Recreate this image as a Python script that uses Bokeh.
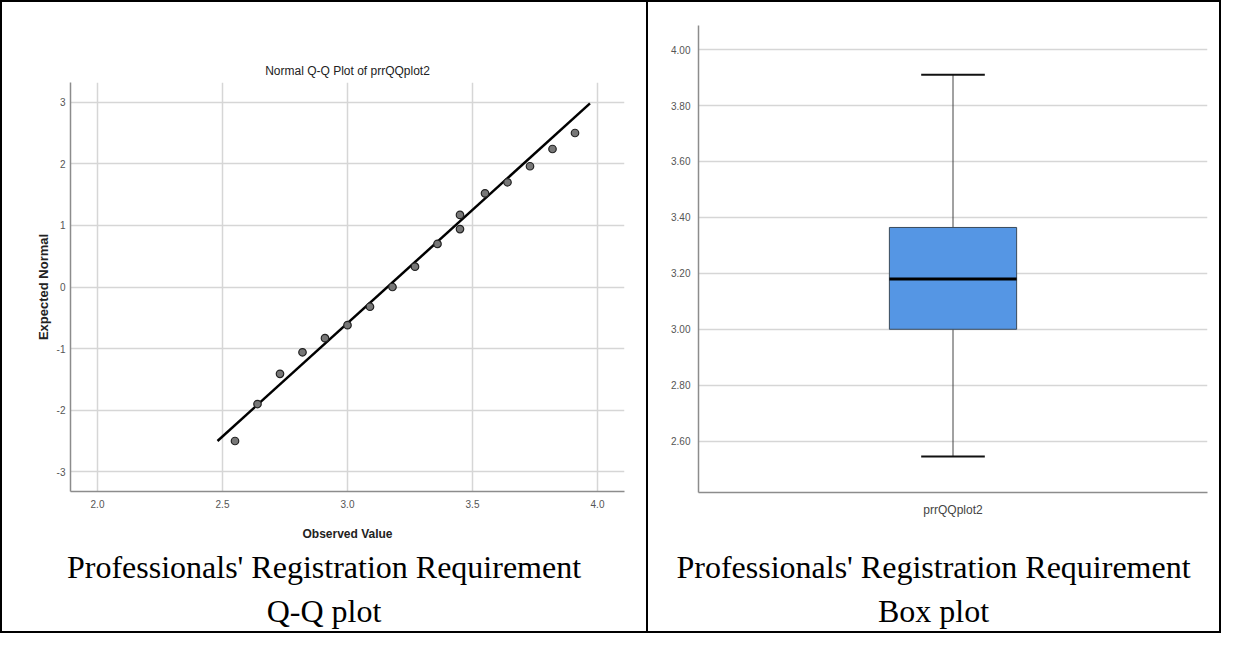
from bokeh.plotting import figure
from bokeh.layouts import row, column
from bokeh.models import Range1d, FactorRange, FixedTicker, Div
from bokeh.embed import file_html
from bokeh.resources import INLINE

# ---------------- data ----------------
observed = [2.55, 2.64, 2.73, 2.82, 2.91, 3.00, 3.09, 3.18, 3.27, 3.36,
            3.45, 3.45, 3.55, 3.64, 3.73, 3.82, 3.91]
expected = [-2.50, -1.90, -1.41, -1.06, -0.83, -0.62, -0.32, 0.00, 0.33, 0.70,
            0.94, 1.17, 1.52, 1.70, 1.96, 2.24, 2.50]
ref_line_x = [2.48, 3.97]
ref_line_y = [-2.50, 2.98]
qq_x_ticks = [2.0, 2.5, 3.0, 3.5, 4.0]
qq_x_labels = ["2.0", "2.5", "3.0", "3.5", "4.0"]
qq_y_ticks = [-3, -2, -1, 0, 1, 2, 3]
qq_y_labels = ["-3", "-2", "-1", "0", "1", "2", "3"]

box_category = ["prrQQplot2"]
box_min = [2.545]
box_q1 = [3.00]
box_median = [3.18]
box_q3 = [3.364]
box_max = [3.91]
box_y_ticks = [2.6, 2.8, 3.0, 3.2, 3.4, 3.6, 3.8, 4.0]
box_y_labels = ["2.60", "2.80", "3.00", "3.20", "3.40", "3.60", "3.80", "4.00"]

qq_title = "Normal Q-Q Plot of prrQQplot2"
qq_caption = ["Professionals' Registration Requirement", "Q-Q plot"]
box_caption = ["Professionals' Registration Requirement", "Box plot"]

NARROW = "'Liberation Sans Narrow', 'Arial Narrow', 'Liberation Sans'"
GRID = "#d6d6d6"
AXIS = "#8c8c8c"
TICK = "#555555"

PH = 541   # plot height
DH = 88    # caption height
W1 = 644   # left cell width
W2 = 571   # right cell width
LW = 2     # table line width


def style_axes(p):
    p.outline_line_color = None
    for ax in (p.xaxis, p.yaxis):
        ax.axis_line_color = AXIS
        ax.axis_line_width = 1.5
        ax.major_tick_line_color = None
        ax.minor_tick_line_color = None
        ax.major_tick_out = 0
        ax.major_tick_in = 0
        ax.minor_tick_out = 0
        ax.minor_tick_in = 0
        ax.major_label_text_font = NARROW
        ax.major_label_text_font_size = "10px"
        ax.major_label_text_color = TICK
    p.grid.grid_line_color = GRID
    p.grid.grid_line_width = 1.5


def caption(lines, width):
    html = ('<div style="width:%dpx;padding-top:2px;font-family:\'Liberation Serif\',serif;'
            'font-size:32px;line-height:44px;text-align:center;color:#000;">%s</div>'
            % (width, "<br>".join(lines)))
    return Div(text=html, width=width, height=DH, margin=0)


def rule(width, height):
    return Div(text="", width=width, height=height, margin=0,
               styles={"background-color": "#000000"})


# ---------------- Q-Q plot ----------------
p1 = figure(width=W1, height=PH, output_backend="svg", toolbar_location=None,
            x_range=Range1d(1.892, 4.108), y_range=Range1d(-3.32, 3.32),
            min_border_left=68, min_border_right=22, min_border_top=80,
            min_border_bottom=PH - 490)
p1.title.text = qq_title
p1.title.align = "center"
p1.title.text_font = NARROW
p1.title.text_font_size = "12px"
p1.title.text_font_style = "normal"
p1.title.text_color = "#222222"
p1.title.standoff = 10
style_axes(p1)
p1.xaxis.ticker = FixedTicker(ticks=qq_x_ticks)
p1.yaxis.ticker = FixedTicker(ticks=qq_y_ticks)
p1.xaxis.major_label_overrides = dict(zip(qq_x_ticks, qq_x_labels))
p1.yaxis.major_label_overrides = dict(zip(qq_y_ticks, qq_y_labels))
p1.xaxis.major_label_standoff = 8
p1.yaxis.major_label_standoff = 5
p1.xaxis.axis_label = "Observed Value"
p1.xaxis.axis_label_text_font = NARROW
p1.xaxis.axis_label_text_font_style = "bold"
p1.xaxis.axis_label_text_font_size = "12px"
p1.xaxis.axis_label_text_color = "#222222"
p1.xaxis.axis_label_standoff = 16
p1.yaxis.axis_label = "Expected Normal"
p1.yaxis.axis_label_text_font = "Liberation Sans"
p1.yaxis.axis_label_text_font_style = "bold"
p1.yaxis.axis_label_text_font_size = "13px"
p1.yaxis.axis_label_text_color = "#222222"
p1.yaxis.axis_label_standoff = 3

p1.line(ref_line_x, ref_line_y, line_color="#000000", line_width=2.5)
p1.scatter(observed, expected, size=7.5, fill_color="#777777",
           line_color="#222222", line_width=1.2)
d1 = caption(qq_caption, W1)

# ---------------- Box plot ----------------
p2 = figure(width=W2, height=PH, output_backend="svg", toolbar_location=None,
            x_range=FactorRange(factors=box_category), y_range=Range1d(2.4165, 4.086),
            min_border_left=50, min_border_right=12, min_border_top=23,
            min_border_bottom=PH - 490)
style_axes(p2)
p2.xgrid.grid_line_color = None
p2.yaxis.ticker = FixedTicker(ticks=box_y_ticks)
p2.yaxis.major_label_overrides = dict(zip(box_y_ticks, box_y_labels))
p2.yaxis.major_label_standoff = 8
p2.xaxis.major_label_text_font_size = "12px"
p2.xaxis.major_label_text_color = "#444444"
p2.xaxis.major_label_standoff = 10

cat = box_category[0]
p2.segment(x0=box_category, y0=box_q3, x1=box_category, y1=box_max,
           line_color="#444444", line_width=1)
p2.segment(x0=box_category, y0=box_min, x1=box_category, y1=box_q1,
           line_color="#444444", line_width=1)
p2.segment(x0=[(cat, -0.0625)], y0=box_max, x1=[(cat, 0.0625)], y1=box_max,
           line_color="#111111", line_width=2)
p2.segment(x0=[(cat, -0.0625)], y0=box_min, x1=[(cat, 0.0625)], y1=box_min,
           line_color="#111111", line_width=2)
p2.vbar(x=box_category, width=0.25, bottom=box_q1, top=box_q3,
        fill_color="#5596E4", line_color="#3a4a5a", line_width=1)
p2.segment(x0=[(cat, -0.125)], y0=box_median, x1=[(cat, 0.125)], y1=box_median,
           line_color="#000000", line_width=3)
d2 = caption(box_caption, W2)

total_w = LW + W1 + LW + W2 + LW
inner_h = PH + DH
layout = column(
    rule(total_w, LW),
    row(rule(LW, inner_h), column(p1, d1), rule(LW, inner_h),
        column(p2, d2), rule(LW, inner_h)),
    rule(total_w, LW),
)
open("out.html", "w").write(file_html(layout, INLINE))
